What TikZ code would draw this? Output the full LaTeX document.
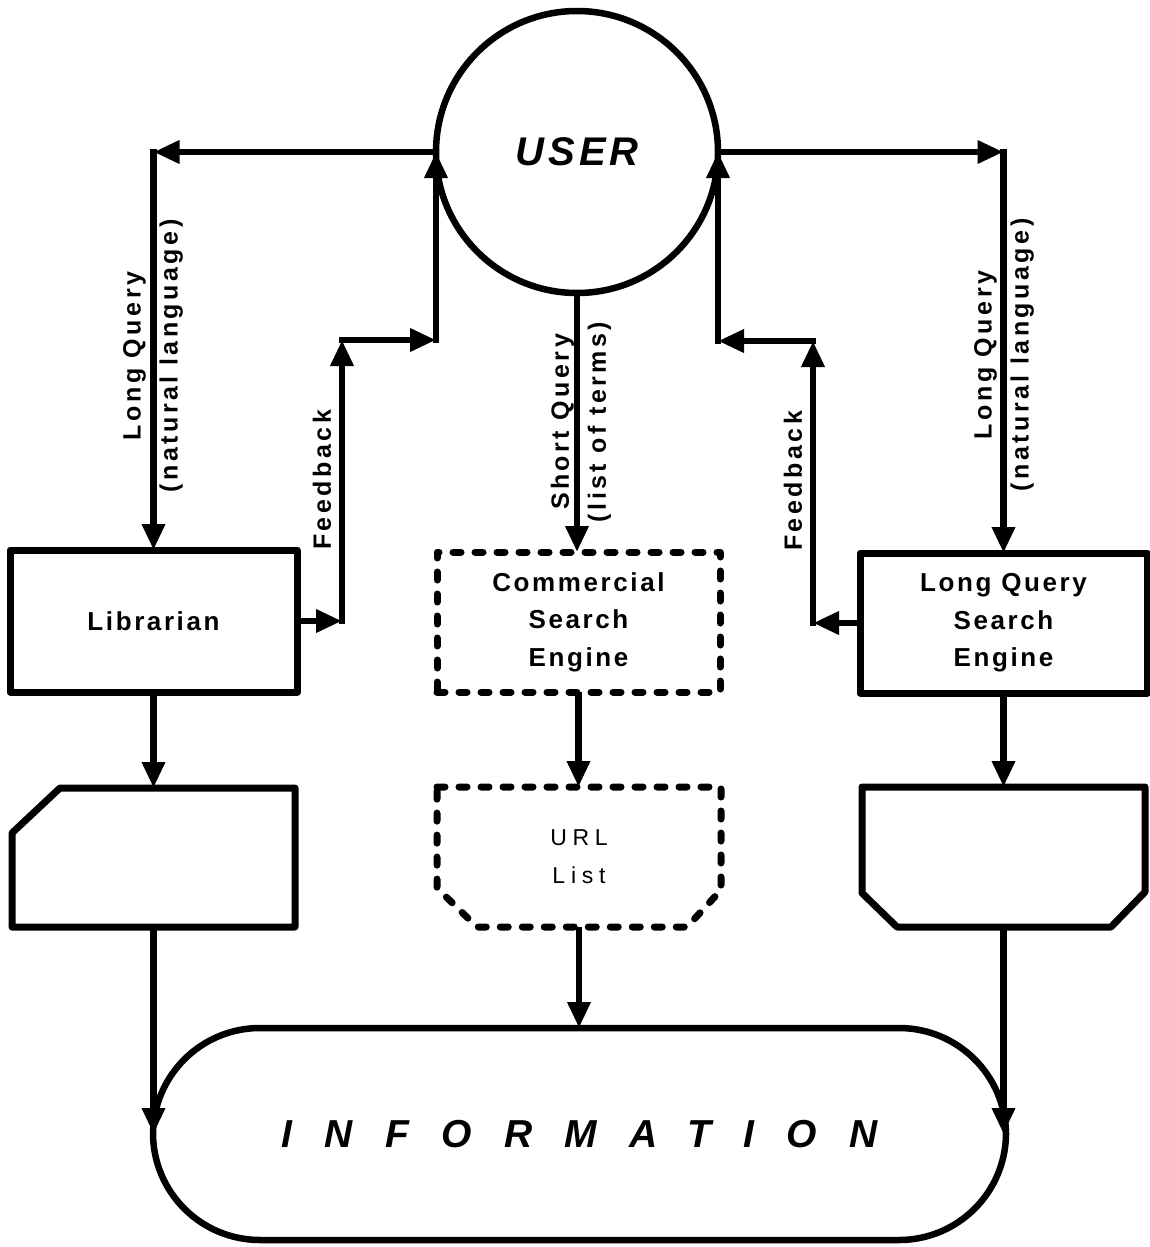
\documentclass[tikz,border=0pt]{standalone}
\usepackage{fontspec}
\setmainfont{Liberation Sans}
\usetikzlibrary{arrows.meta,calc}
\begin{document}
\begin{tikzpicture}[x=1pt,y=-1pt,
  conn/.style={line width=6.5pt, -{Triangle[length=26pt,width=22pt]}},
  boxline/.style={line width=7pt, line join=round},
  dashline/.style={line width=7pt, dash pattern=on 8pt off 14pt, line cap=round, line join=round},
  boxtext/.style={font=\fontsize{26}{37.5}\selectfont\bfseries\addfontfeature{LetterSpace=10}, align=center},
  lbl/.style={font=\fontsize{25}{37}\selectfont\bfseries\addfontfeature{LetterSpace=14}, align=center, rotate=90},
  every node/.style={inner sep=0pt, outer sep=0pt}
]
\useasboundingbox (0,0) rectangle (1149,1247);

% main nodes
\node[circle, draw, line width=6.5pt, minimum size=282pt,
      font=\fontsize{40}{48}\selectfont\bfseries\itshape\addfontfeature{LetterSpace=10}] (user) at (577,152) {\raisebox{-3pt}{USER}};

\node[draw, boxline, minimum width=287pt, minimum height=142pt, boxtext] (lib) at (153.5,621) {Librarian};
\node[draw, dashline, minimum width=283pt, minimum height=140pt, boxtext] (cse) at (578.5,622) {Commercial\\Search\\Engine};
\node[draw, boxline, minimum width=287pt, minimum height=140pt, boxtext] (lqse) at (1003.5,623) {Long Query\\Search\\Engine};

% documents
\node[minimum width=283pt, minimum height=139pt] (doc1) at (153.5,857.5) {};
\draw[boxline] ($(doc1.north west)+(0,45)$) -- ($(doc1.north west)+(48,0)$) -- (doc1.north east)
   -- (doc1.south east) -- (doc1.south west) -- cycle;

\node[minimum width=284pt, minimum height=140pt, align=center,
      font=\fontsize{23}{38}\selectfont\addfontfeature{LetterSpace=25}] (url) at (579,857) {URL\\List};
\draw[dashline] (url.north west) -- (url.north east) -- ($(url.south east)+(0,-37)$)
   -- ($(url.south east)+(-34,0)$) -- ($(url.south west)+(40,0)$) -- ($(url.south west)+(0,-39)$) -- cycle;

\node[minimum width=283pt, minimum height=140pt] (doc3) at (1003.5,857) {};
\draw[boxline] (doc3.north west) -- (doc3.north east) -- ($(doc3.south east)+(0,-35)$)
   -- ($(doc3.south east)+(-34,0)$) -- ($(doc3.south west)+(35,0)$) -- ($(doc3.south west)+(0,-34)$) -- cycle;

\node[draw, line width=6.5pt, rounded corners=107pt, minimum width=853pt, minimum height=212pt,
      font=\fontsize{39}{45}\selectfont\bfseries\itshape\addfontfeature{LetterSpace=83}] (info) at (579.5,1134) {INFORMATION};

% connectors: left query
\coordinate (c1) at (lib.north |- user.west);
\draw[conn] (user.west) -- (c1);
\draw[conn] ([yshift=3pt]c1) -- (lib.north);

% left feedback
\coordinate (f1) at ($(lib.east)+(45,0)$);
\coordinate (f2) at ($(f1)+(0,-281)$);
\coordinate (f3) at (f2 -| user.west);
\draw[conn] (lib.east) -- (f1);
\draw[conn] ([yshift=-3pt]f1) -- (f2);
\draw[conn] ([xshift=-3pt]f2) -- (f3);
\draw[conn] ([yshift=-3pt]f3) -- (user.west);

% short query
\draw[conn] (user.south) -- (user.south |- cse.north);

% right query
\coordinate (c2) at (lqse.north |- user.east);
\draw[conn] (user.east) -- (c2);
\draw[conn] ([yshift=3pt]c2) -- (lqse.north);

% right feedback
\coordinate (g1) at ($(lqse.west)+(-47,0)$);
\coordinate (g2) at ($(g1)+(0,-282)$);
\coordinate (g3) at (g2 -| user.east);
\draw[conn] (lqse.west) -- (g1);
\draw[conn] ([yshift=-3pt]g1) -- (g2);
\draw[conn] ([xshift=3pt]g2) -- (g3);
\draw[conn] ([yshift=-3pt]g3) -- (user.east);

% down arrows
\draw[conn] (lib.south) -- (lib.south |- doc1.north);
\draw[conn] (cse.south) -- (cse.south |- url.north);
\draw[conn] (lqse.south) -- (lqse.south |- doc3.north);
\draw[conn] (doc1.south) -- (doc1.south |- info.west);
\draw[conn] (url.south) -- (url.south |- info.north);
\draw[conn] (doc3.south) -- (doc3.south |- info.east);

% labels
\node[lbl] (lqlabL) at (153,356) {Long Query\\(natural language)};
\node[lbl] (fbL) at (322,480) {Feedback};
\node[lbl] (sq) at (581,422) {Short Query\\(list of terms)};
\node[lbl] (fbR) at (793,481) {Feedback};
\node[lbl] (lqlabR) at (1004,355) {Long Query\\(natural language)};
\end{tikzpicture}
\end{document}
